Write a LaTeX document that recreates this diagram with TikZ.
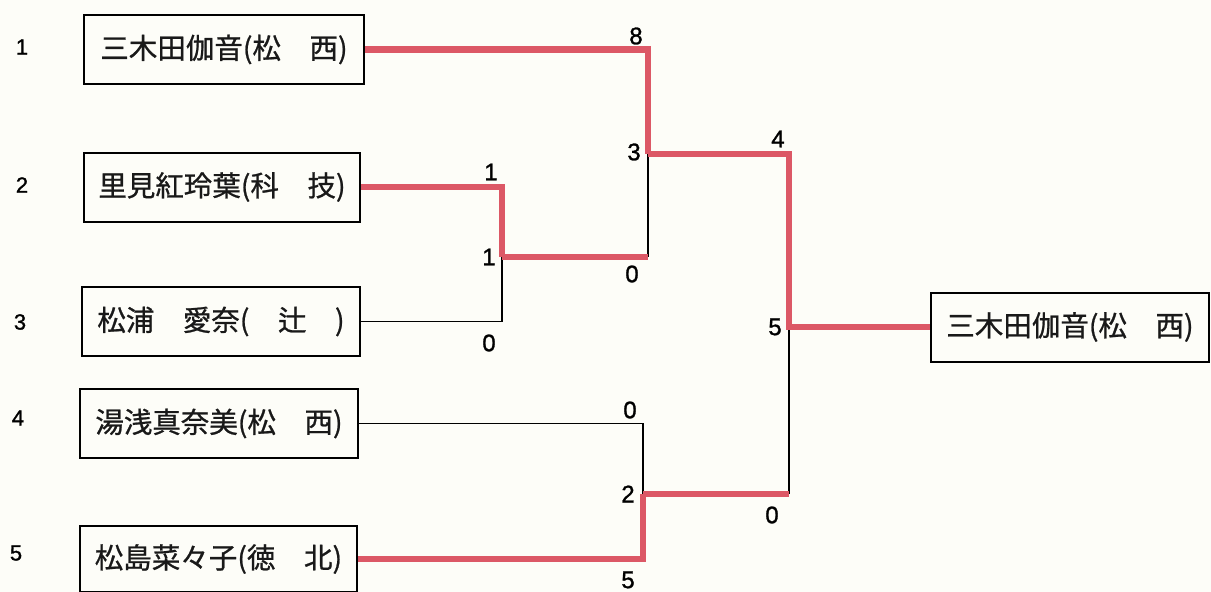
\documentclass[tikz,border=0pt]{standalone}
\usepackage{fontspec}
\setmainfont{Liberation Sans}
\newfontfamily\jp[FakeBold=0.8]{Noto Sans CJK JP}
\newfontfamily\digitfont[FakeBold=1.2]{Liberation Sans}
\definecolor{win}{RGB}{220,88,102}
\definecolor{paper}{RGB}{253,253,248}
\begin{document}
\begin{tikzpicture}[x=1pt,y=-1pt,
  namebox/.style={draw=black,line width=2pt,minimum height=69pt,inner sep=0pt,
    font=\jp\fontsize{28.5}{30}\selectfont,text=black!90},
  seed/.style={font=\digitfont\fontsize{22}{24}\selectfont,inner sep=0pt},
  score/.style={font=\digitfont\fontsize{24}{26}\selectfont,inner sep=0pt},
  lose/.style={draw=black,line width=1.8pt},
  winl/.style={draw=win,line width=6.5pt,line join=miter}]
\fill[paper] (0,0) rectangle (1211,592);
\useasboundingbox (0,0) rectangle (1211,592);
\begin{scope}
\clip (0,0) rectangle (1211,592);
% seeds
\node[seed] (s1) at (22,47) {1};
\node[seed] (s2) at (22,185) {2};
\node[seed] (s3) at (20,322) {3};
\node[seed] (s4) at (18,418) {4};
\node[seed] (s5) at (16,553) {5};
% boxes
\node[namebox,minimum width=280pt] (n1) at (224,49.5) {三木田伽音(松　西)};
\node[namebox,minimum width=276pt] (n2) at (222,187) {里見紅玲葉(科　技)};
\node[namebox,minimum width=278pt] (n3) at (221,321.5) {松浦　愛奈(　辻　)};
\node[namebox,minimum width=278pt] (n4) at (219,423.5) {湯浅真奈美(松　西)};
\node[namebox,minimum width=277pt,minimum height=66pt] (n5) at (218.5,559) {松島菜々子(徳　北)};
\node[namebox,minimum width=278pt] (nf) at (1070,327) {三木田伽音(松　西)};
% junctions
\coordinate (jA) at (648,154);
\coordinate (j2) at (648,257);
\coordinate (jB) at (502,257);
\coordinate (jC) at (643,494);
\coordinate (f1) at (789,154);
\coordinate (jF) at (789,327);
\coordinate (f2) at (789,494);
% losing lines
\draw[lose] (n3.east) -| (jB);
\draw[lose] (j2) -- (jA);
\draw[lose] (n4.east) -| (jC);
\draw[lose] (f2) -- (jF);
% winning lines
\draw[winl] (n1.east) -| (jA);
\draw[winl] (n2.east) -| (jB);
\draw[winl] (jB) -- (j2);
\draw[winl] (n5.east) -| (jC);
\draw[winl] (jC) -- (f2);
\draw[winl] (jA) -- (f1) -- (jF) -- (nf.west);
\end{scope}
% scores
\node[score] (a8) at (636,36) {8};
\node[score] (a3) at (634,152) {3};
\node[score] (a0) at (632,274) {0};
\node[score] (b1) at (491,172) {1};
\node[score] (b2) at (489,257) {1};
\node[score] (b0) at (489,343) {0};
\node[score] (c0) at (630,410) {0};
\node[score] (c2) at (628,494) {2};
\node[score] (c5) at (628,580) {5};
\node[score] (f4) at (778,139) {4};
\node[score] (f5) at (775,327) {5};
\node[score] (f0) at (772,515) {0};
\end{tikzpicture}
\end{document}
